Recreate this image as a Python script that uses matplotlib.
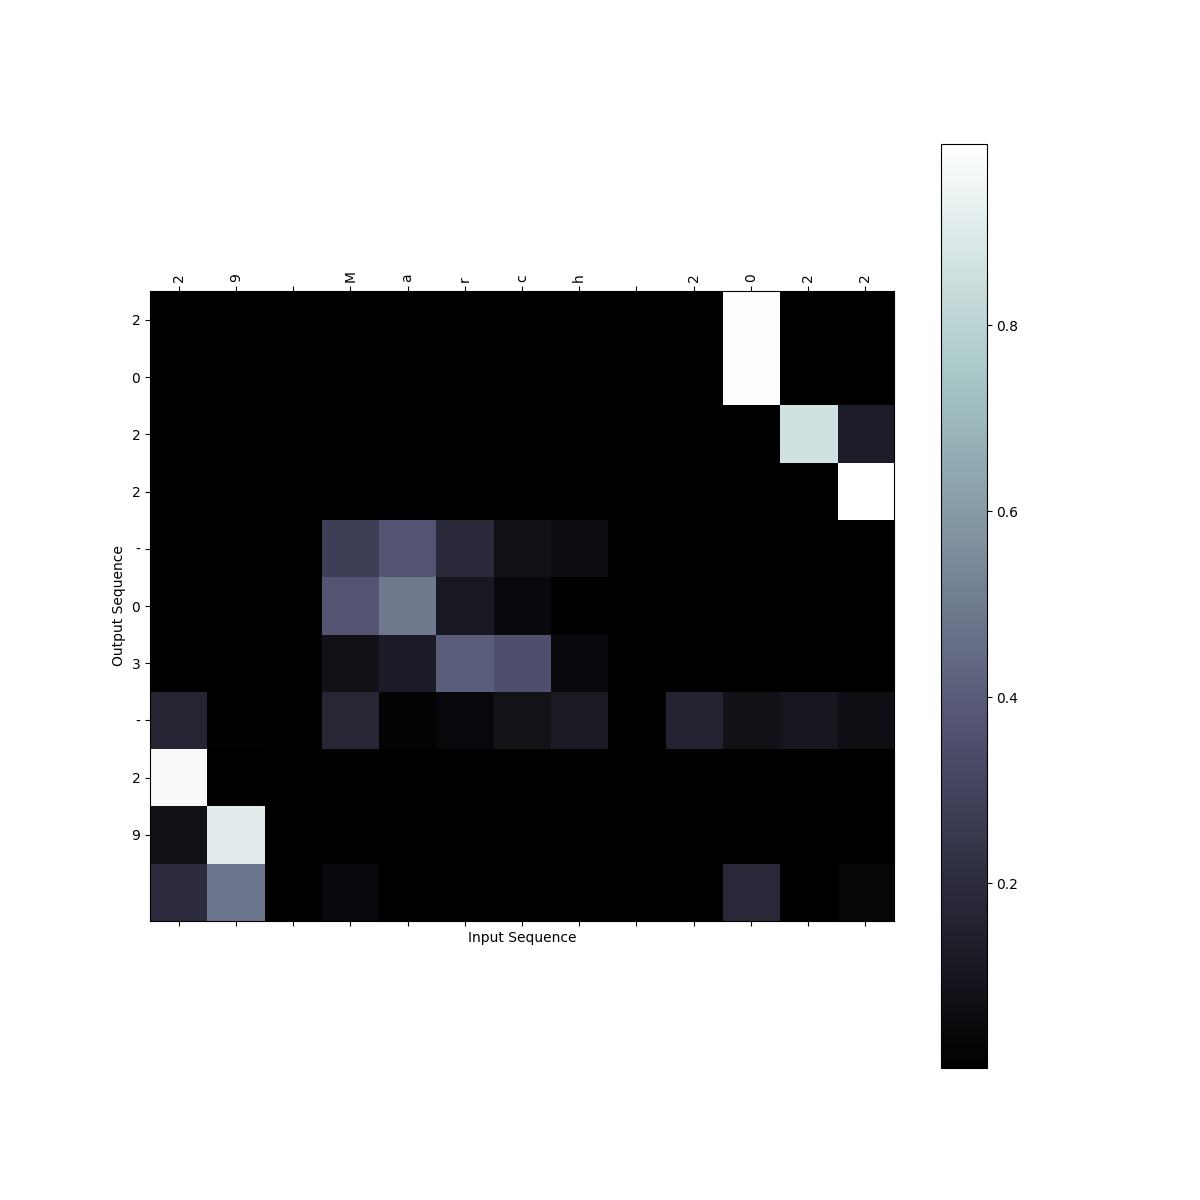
import matplotlib
matplotlib.use("Agg")
import matplotlib.pyplot as plt
import numpy as np

input_chars = list("29 March 2022")
output_chars = list("2022-03-29")

# attention weights: rows = output steps, cols = input chars
row0 = [0.0, 0.0, 0.0, 0.0, 0.0, 0.0, 0.0, 0.0, 0.0, 0.001, 0.985, 0.004, 0.002]
row1 = [0.0, 0.0, 0.0, 0.0, 0.0, 0.0, 0.0, 0.0, 0.0, 0.001, 0.985, 0.004, 0.002]
row2 = [0.0, 0.0, 0.0, 0.0, 0.0, 0.0, 0.0, 0.0, 0.0, 0.001, 0.003, 0.860, 0.134]
row3 = [0.0, 0.0, 0.0, 0.0, 0.0, 0.0, 0.0, 0.0, 0.0, 0.0, 0.0, 0.004, 0.995]
row4 = [0.002, 0.002, 0.002, 0.282, 0.372, 0.193, 0.075, 0.065, 0.002, 0.002, 0.002, 0.002, 0.002]
row5 = [0.002, 0.002, 0.002, 0.372, 0.493, 0.110, 0.045, 0.006, 0.002, 0.002, 0.002, 0.002, 0.002]
row6 = [0.002, 0.002, 0.002, 0.080, 0.130, 0.408, 0.354, 0.045, 0.002, 0.002, 0.002, 0.002, 0.002]
row7 = [0.166, 0.012, 0.006, 0.175, 0.020, 0.040, 0.085, 0.125, 0.006, 0.160, 0.080, 0.105, 0.070]
row8 = [0.975, 0.004, 0.002, 0.002, 0.002, 0.002, 0.002, 0.002, 0.002, 0.012, 0.003, 0.002, 0.002]
row9 = [0.076, 0.910, 0.002, 0.002, 0.002, 0.002, 0.002, 0.002, 0.002, 0.002, 0.002, 0.002, 0.002]
row10 = [0.200, 0.485, 0.004, 0.040, 0.004, 0.006, 0.008, 0.010, 0.004, 0.012, 0.180, 0.004, 0.030]

attn = np.array([row0, row1, row2, row3, row4, row5, row6, row7, row8, row9, row10])
attn = np.clip(attn, 0.001, None)

fig = plt.figure(figsize=(12, 12), dpi=100)
ax = fig.add_subplot(111)
cax = ax.matshow(attn, cmap="bone")
fig.colorbar(cax)

ax.set_xticks(range(len(input_chars)))
ax.set_xticklabels(input_chars, rotation=90)
ax.set_yticks(range(len(output_chars)))
ax.set_yticklabels(output_chars)
ax.set_xlabel("Input Sequence")
ax.set_ylabel("Output Sequence")

fig.savefig("out.png", dpi=100)
